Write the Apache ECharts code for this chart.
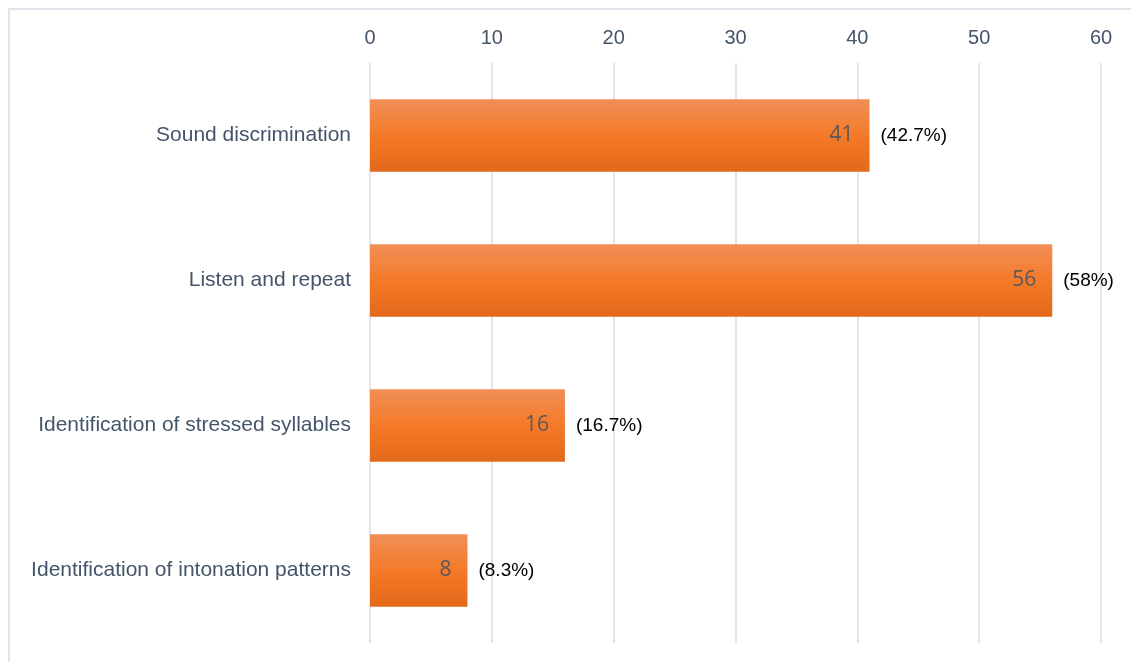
<!DOCTYPE html>
<html>
<head>
<meta charset="utf-8">
<script src="https://cdn.jsdelivr.net/npm/echarts@6/dist/echarts.min.js"></script>
<style>
  html, body { margin: 0; padding: 0; background: #ffffff; }
  #chart { width: 1131px; height: 662px; }
</style>
</head>
<body>
<div id="chart"></div>
<script>
// Pronunciation activity types and how many respondents chose each
const categories = [
  'Sound discrimination',
  'Listen and repeat',
  'Identification of stressed syllables',
  'Identification of intonation patterns'
];
const counts = [41, 56, 16, 8];
const shareLabels = ['(42.7%)', '(58%)', '(16.7%)', '(8.3%)'];
const axisTicks = [0, 10, 20, 30, 40, 50, 60];

const barFill = new echarts.graphic.LinearGradient(0, 0, 0, 1, [
  { offset: 0, color: '#F08F57' },
  { offset: 0.5, color: '#F47A29' },
  { offset: 1, color: '#E3691A' }
]);

const chart = echarts.init(document.getElementById('chart'), null, { renderer: 'canvas' });
chart.setOption({
  animation: false,
  backgroundColor: '#ffffff',
  graphic: [{
    type: 'rect',
    shape: { x: 9, y: 9, width: 1200, height: 700 },
    style: { fill: 'none', stroke: '#E1E4EA', lineWidth: 2 },
    silent: true
  }],
  grid: { left: 370, right: 30, top: 63, bottom: 19, containLabel: false },
  xAxis: {
    type: 'value',
    position: 'top',
    min: axisTicks[0],
    max: axisTicks[axisTicks.length - 1],
    interval: axisTicks[1] - axisTicks[0],
    axisLine: { show: false },
    axisTick: { show: false },
    axisLabel: {
      margin: 15,
      color: '#44546A',
      fontSize: 20,
      fontFamily: 'Liberation Sans, Arial, sans-serif'
    },
    splitLine: { show: true, lineStyle: { color: '#E2E5EB', width: 2 } }
  },
  yAxis: {
    type: 'category',
    inverse: true,
    data: categories,
    axisLine: { show: false },
    axisTick: { show: false },
    axisLabel: {
      margin: 19,
      color: '#44546A',
      fontSize: 21,
      fontFamily: 'Liberation Sans, Arial, sans-serif'
    }
  },
  series: [
    {
      name: 'Count',
      type: 'bar',
      data: counts,
      barWidth: '50%',
      itemStyle: { color: barFill },
      label: {
        show: true,
        position: 'insideRight',
        distance: 16,
        color: '#595959',
        fontSize: 21,
        fontFamily: 'Open Sans, Noto Sans, sans-serif'
      },
      z: 3
    },
    {
      name: 'Share',
      type: 'bar',
      data: counts,
      barWidth: '50%',
      barGap: '-100%',
      itemStyle: { color: 'rgba(0,0,0,0)' },
      label: {
        show: true,
        position: 'right',
        distance: 11,
        color: '#000000',
        fontSize: 19,
        fontFamily: 'Liberation Sans, Arial, sans-serif',
        formatter: (p) => shareLabels[p.dataIndex]
      },
      silent: true,
      z: 2
    }
  ]
});
</script>
</body>
</html>
